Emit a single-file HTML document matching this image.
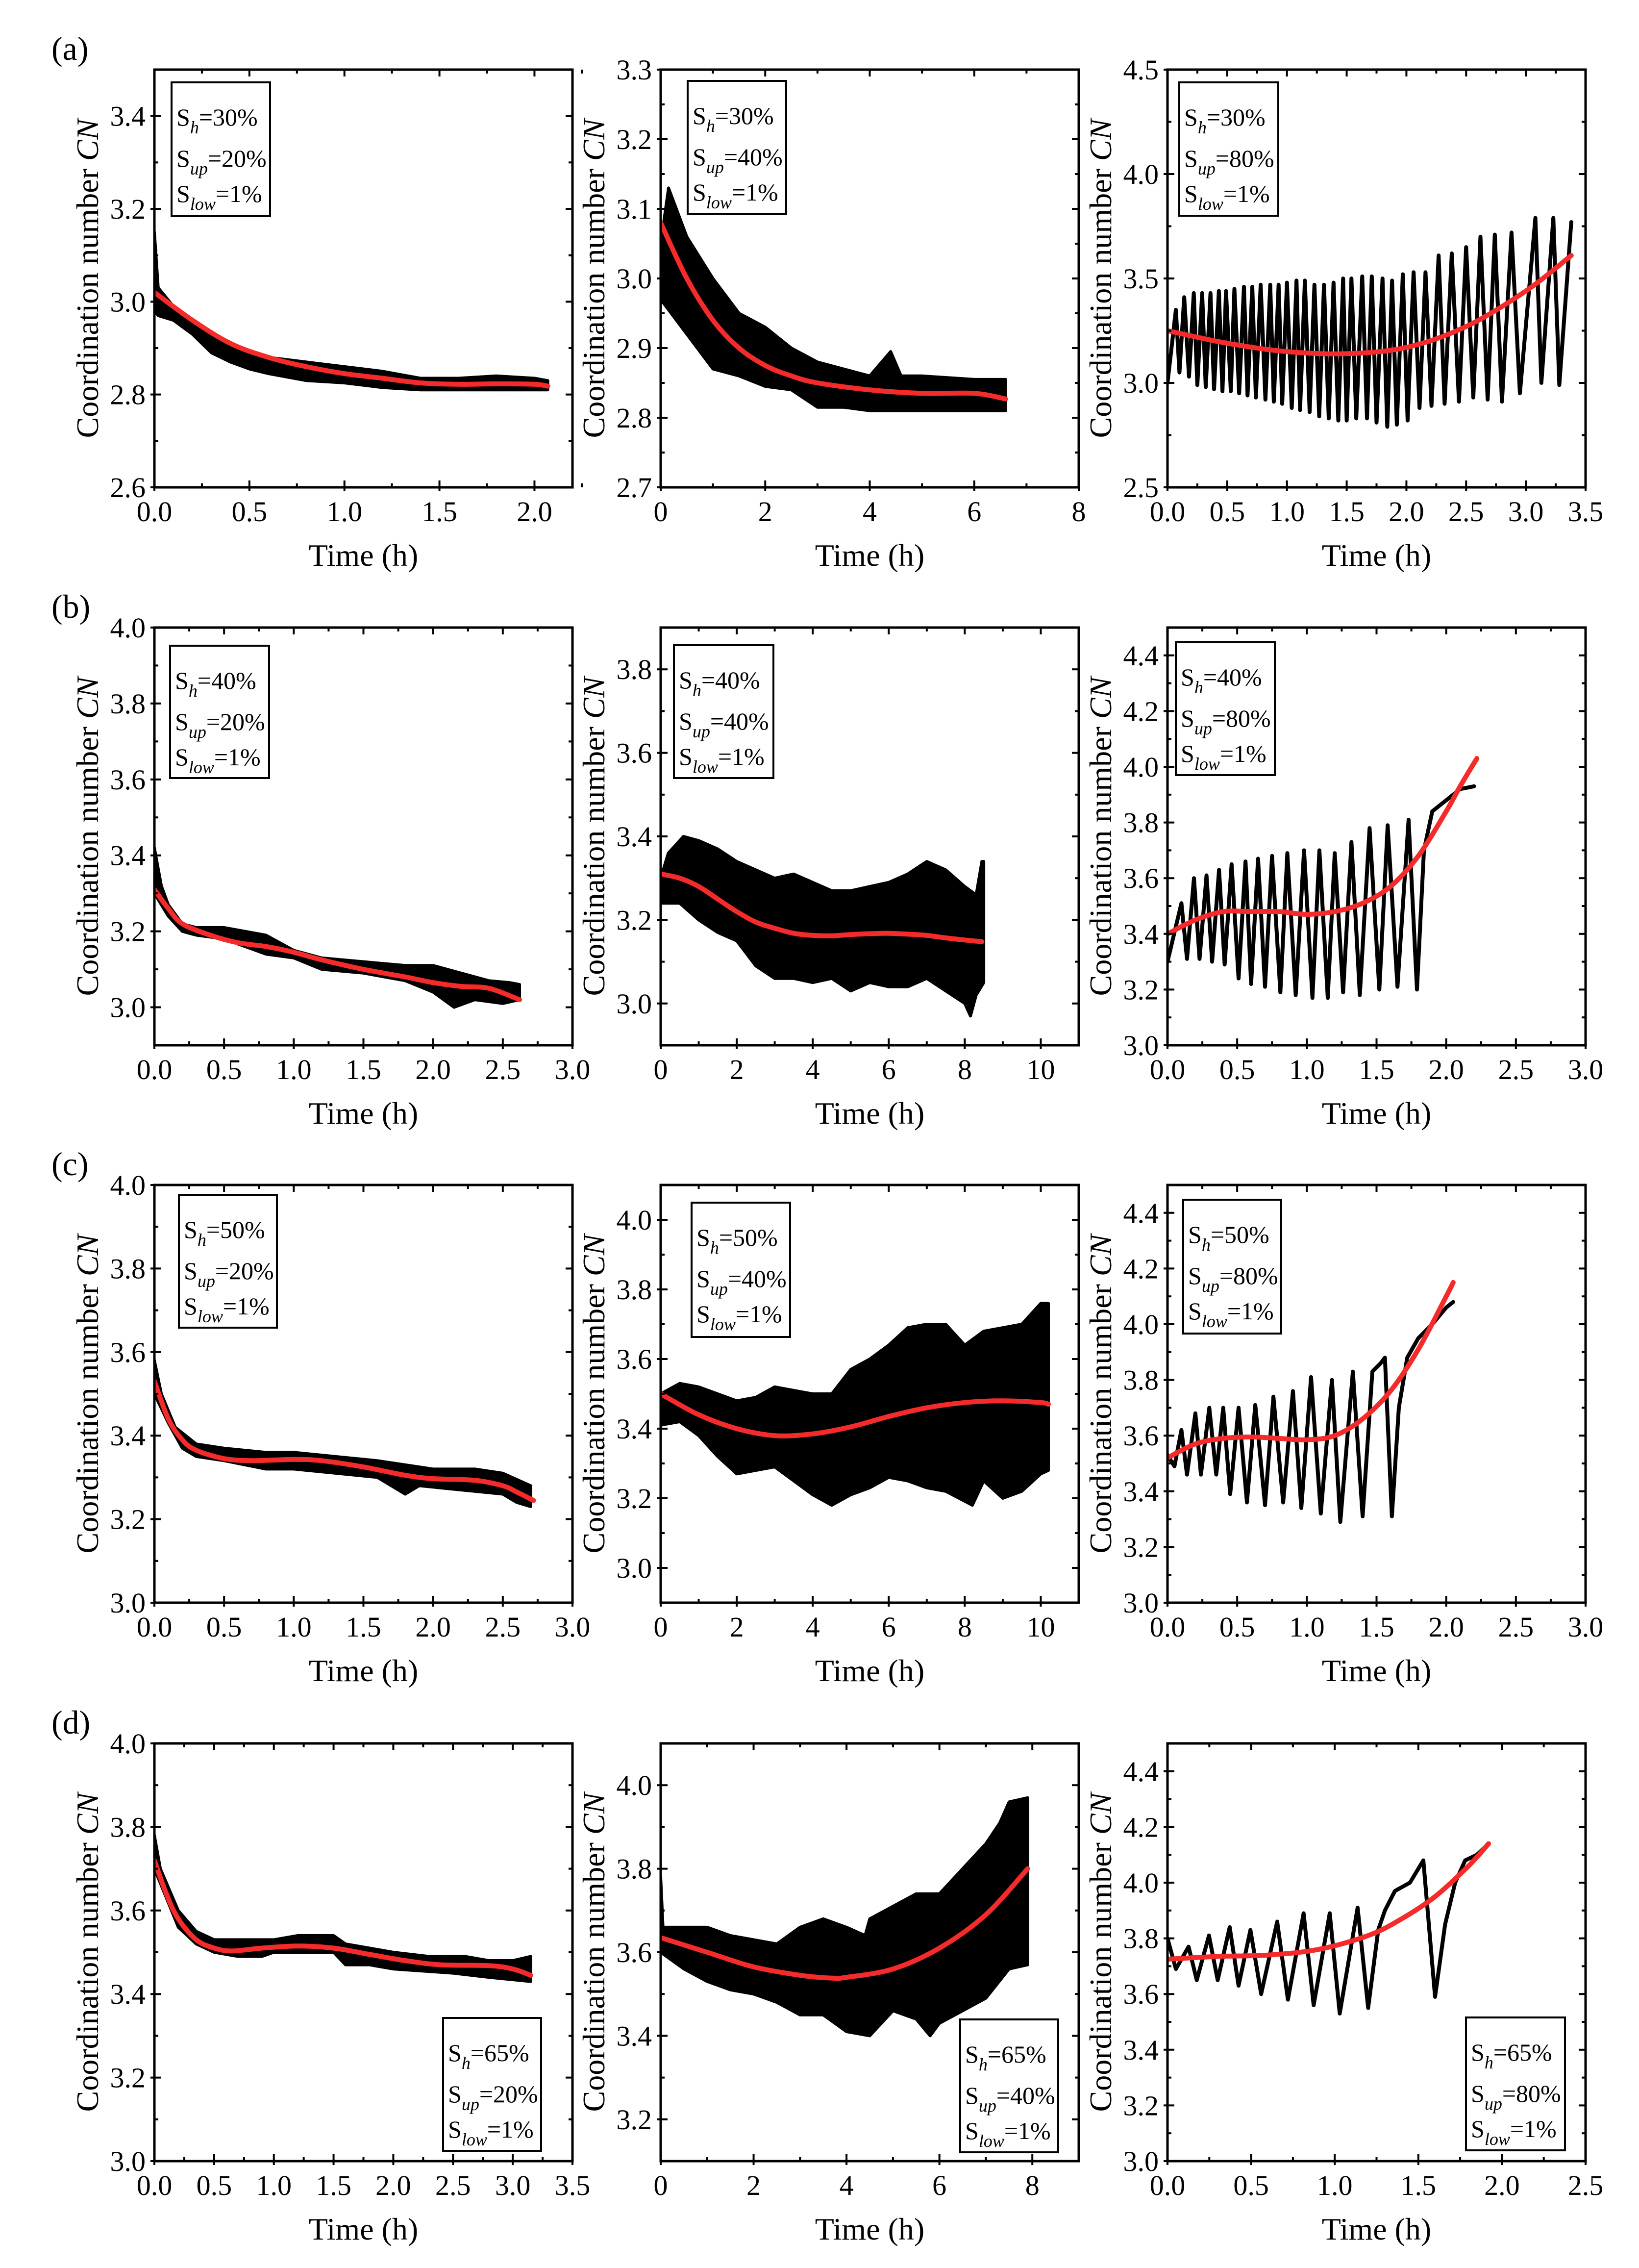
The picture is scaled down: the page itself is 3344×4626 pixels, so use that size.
<!DOCTYPE html>
<html><head><meta charset="utf-8">
<style>
html,body{margin:0;padding:0;background:#fff;}
svg{display:block;font-family:"Liberation Serif","Times New Roman",serif;}
text,tspan{font-family:"Liberation Serif","Times New Roman",serif;fill:#000;}
</style></head>
<body>
<svg id="fig" xmlns="http://www.w3.org/2000/svg" width="3344" height="4626" viewBox="0 0 3344 4626" font-family="Liberation Serif, serif"></svg>
<script>
// ---------------- DATA ----------------
// (a) Sh=30%
const a1UpperT=[0,0.02,0.1,0.2,0.3,0.4,0.5,0.6,0.8,1.0,1.2,1.4,1.6,1.8,2.0,2.07];
const a1UpperV=[3.15,3.03,2.99,2.96,2.93,2.91,2.89,2.88,2.87,2.86,2.85,2.835,2.835,2.84,2.835,2.83];
const a1LowerT=[0,0.02,0.1,0.2,0.3,0.4,0.5,0.6,0.8,1.0,1.2,1.4,1.6,1.8,2.0,2.07];
const a1LowerV=[2.98,2.97,2.96,2.93,2.89,2.87,2.855,2.845,2.83,2.825,2.815,2.81,2.81,2.81,2.81,2.81];
const a1FitT=[0,0.2,0.4,0.6,0.8,1.0,1.2,1.4,1.6,1.8,2.0,2.07];
const a1FitV=[3.02,2.96,2.91,2.88,2.86,2.845,2.835,2.825,2.822,2.823,2.822,2.818];

const a2UpperT=[0,0.15,0.5,1,1.5,2,2.5,3,3.5,4,4.4,4.6,5,6,6.6];
const a2UpperV=[3.05,3.13,3.06,3.0,2.95,2.93,2.9,2.88,2.87,2.86,2.895,2.86,2.86,2.855,2.855];
const a2LowerT=[0,0.5,1,1.5,2,2.5,3,3.5,4,5,6,6.6];
const a2LowerV=[2.97,2.92,2.87,2.86,2.845,2.84,2.815,2.815,2.81,2.81,2.81,2.81];
const a2FitT=[0,0.5,1,1.5,2,2.5,3,4,5,6,6.6];
const a2FitV=[3.08,3.0,2.94,2.9,2.875,2.86,2.85,2.84,2.835,2.835,2.827];

const a3LineT=[0.0,0.07,0.10,0.14,0.18,0.22,0.25,0.29,0.32,0.36,0.39,0.43,0.46,0.49,0.53,0.56,0.60,0.64,0.67,0.71,0.74,0.78,0.82,0.86,0.89,0.93,0.96,1.0,1.04,1.08,1.11,1.15,1.19,1.23,1.27,1.31,1.35,1.39,1.43,1.47,1.50,1.54,1.58,1.63,1.67,1.71,1.75,1.8,1.84,1.88,1.92,1.97,2.01,2.06,2.11,2.16,2.21,2.27,2.32,2.38,2.44,2.5,2.56,2.62,2.68,2.74,2.80,2.88,2.95,3.08,3.13,3.23,3.28,3.38];
const a3LineV=[3.0,3.35,3.05,3.41,3.03,3.43,2.99,3.43,2.98,3.43,2.97,3.44,2.96,3.44,2.96,3.45,2.95,3.46,2.94,3.46,2.93,3.47,2.92,3.47,2.91,3.47,2.90,3.48,2.88,3.49,2.87,3.49,2.86,3.47,2.84,3.47,2.83,3.48,2.82,3.5,2.82,3.5,2.83,3.51,2.83,3.51,2.81,3.5,2.79,3.49,2.80,3.52,2.82,3.53,2.88,3.53,2.89,3.61,2.90,3.62,2.91,3.65,2.93,3.7,2.92,3.71,2.91,3.72,2.95,3.79,3.0,3.79,2.99,3.77];
const a3FitT=[0,0.5,1.0,1.5,2.0,2.5,3.0,3.38];
const a3FitV=[3.25,3.19,3.15,3.14,3.17,3.27,3.44,3.61];

// (b) Sh=40%
const b1UpperT=[0,0.05,0.1,0.2,0.3,0.5,0.8,1.0,1.2,1.5,1.8,2.0,2.2,2.4,2.55,2.62];
const b1UpperV=[3.42,3.32,3.27,3.22,3.21,3.21,3.19,3.15,3.13,3.12,3.11,3.11,3.09,3.07,3.065,3.06];
const b1LowerT=[0,0.1,0.2,0.3,0.5,0.8,1.0,1.2,1.5,1.8,2.0,2.15,2.3,2.5,2.62];
const b1LowerV=[3.3,3.24,3.2,3.19,3.18,3.14,3.13,3.1,3.09,3.07,3.04,3.0,3.02,3.01,3.02];
const b1FitT=[0,0.1,0.2,0.4,0.6,0.8,1.0,1.2,1.5,1.8,2.0,2.2,2.4,2.62];
const b1FitV=[3.31,3.26,3.22,3.19,3.17,3.16,3.145,3.125,3.1,3.08,3.065,3.055,3.05,3.02];

const b2UpperT=[0,0.2,0.6,1,1.5,2,2.5,3,3.5,4,4.5,5,5.5,6,6.5,7,7.5,8,8.3,8.45,8.5];
const b2UpperV=[3.3,3.36,3.4,3.39,3.37,3.34,3.32,3.3,3.31,3.29,3.27,3.27,3.28,3.29,3.31,3.34,3.32,3.28,3.26,3.34,3.34];
const b2LowerT=[0,0.5,1,1.5,2,2.5,3,3.5,4,4.5,5,5.5,6,6.5,7,7.5,8,8.15,8.3,8.5];
const b2LowerV=[3.24,3.24,3.2,3.17,3.15,3.09,3.06,3.06,3.05,3.06,3.03,3.05,3.04,3.04,3.06,3.03,3.0,2.97,3.02,3.05];
const b2FitT=[0,0.5,1,1.5,2,2.5,3,3.5,4,4.5,5,5.5,6,6.5,7,7.5,8,8.45];
const b2FitV=[3.31,3.3,3.28,3.25,3.22,3.195,3.18,3.168,3.163,3.162,3.165,3.167,3.168,3.166,3.163,3.157,3.152,3.148];

const b3LineT=[0.0,0.10,0.14,0.19,0.23,0.28,0.32,0.37,0.41,0.46,0.51,0.56,0.60,0.65,0.70,0.75,0.81,0.86,0.92,0.98,1.04,1.09,1.15,1.20,1.26,1.32,1.38,1.45,1.52,1.58,1.65,1.73,1.79,1.84,1.9,2.0,2.1,2.2];
const b3LineV=[3.3,3.51,3.31,3.6,3.31,3.61,3.3,3.63,3.29,3.65,3.24,3.66,3.22,3.67,3.21,3.68,3.19,3.69,3.18,3.7,3.17,3.7,3.17,3.69,3.19,3.73,3.18,3.78,3.2,3.79,3.21,3.81,3.2,3.7,3.84,3.88,3.92,3.93];
const b3FitT=[0,0.2,0.4,0.6,0.8,1.0,1.2,1.4,1.6,1.8,2.0,2.1,2.22];
const b3FitV=[3.4,3.45,3.48,3.48,3.48,3.47,3.48,3.51,3.57,3.68,3.84,3.93,4.03];

// (c) Sh=50%
const c1UpperT=[0,0.05,0.15,0.3,0.5,0.8,1.0,1.3,1.6,1.8,2.0,2.3,2.5,2.7];
const c1UpperV=[3.58,3.5,3.42,3.38,3.37,3.36,3.36,3.35,3.34,3.33,3.32,3.32,3.31,3.28];
const c1LowerT=[0,0.1,0.2,0.3,0.5,0.8,1.0,1.3,1.6,1.8,1.9,2.2,2.5,2.6,2.7];
const c1LowerV=[3.5,3.43,3.37,3.35,3.34,3.32,3.32,3.31,3.3,3.26,3.28,3.27,3.26,3.24,3.23];
const c1FitT=[0,0.1,0.2,0.3,0.5,0.7,1.0,1.2,1.5,1.8,2.0,2.3,2.5,2.6,2.72];
const c1FitV=[3.53,3.44,3.39,3.365,3.345,3.34,3.343,3.34,3.325,3.305,3.297,3.293,3.28,3.265,3.245];

const c2UpperT=[0,0.5,1,2,2.5,3,4,4.5,5,5.5,6,6.5,7,7.5,8,8.5,9,9.5,10,10.2];
const c2UpperV=[3.5,3.53,3.52,3.48,3.49,3.52,3.5,3.5,3.57,3.6,3.64,3.69,3.7,3.7,3.64,3.68,3.69,3.7,3.76,3.76];
const c2LowerT=[0,0.5,1,1.5,2,2.5,3,3.5,4,4.5,5,5.5,6,6.5,7,7.5,8.2,8.5,9,9.5,10,10.2];
const c2LowerV=[3.41,3.42,3.38,3.32,3.27,3.28,3.29,3.25,3.21,3.18,3.21,3.23,3.26,3.25,3.23,3.22,3.18,3.25,3.2,3.22,3.27,3.28];
const c2FitT=[0,1,2,3,4,5,6,7,8,9,10,10.2];
const c2FitV=[3.5,3.44,3.4,3.38,3.385,3.405,3.435,3.46,3.475,3.48,3.475,3.47];

const c3LineT=[0.0,0.05,0.10,0.14,0.20,0.24,0.30,0.35,0.40,0.45,0.51,0.57,0.63,0.70,0.76,0.83,0.90,0.96,1.03,1.10,1.18,1.24,1.33,1.40,1.47,1.53,1.56,1.61,1.66,1.72,1.8,1.9,2.0,2.05];
const c3LineV=[3.53,3.49,3.62,3.46,3.68,3.46,3.7,3.46,3.7,3.39,3.7,3.36,3.71,3.35,3.74,3.36,3.76,3.34,3.81,3.32,3.8,3.29,3.83,3.31,3.83,3.86,3.88,3.31,3.7,3.88,3.95,4.0,4.06,4.08];
const c3FitT=[0,0.2,0.4,0.6,0.8,1.0,1.2,1.4,1.6,1.8,2.0,2.05];
const c3FitV=[3.52,3.57,3.59,3.595,3.59,3.585,3.6,3.66,3.76,3.91,4.1,4.15];

// (d) Sh=65%
const d1UpperT=[0,0.05,0.2,0.35,0.5,0.7,1.0,1.2,1.5,1.6,1.8,2.0,2.3,2.6,2.8,3.0,3.15];
const d1UpperV=[3.78,3.7,3.6,3.55,3.53,3.53,3.53,3.54,3.54,3.52,3.51,3.5,3.49,3.49,3.48,3.48,3.49];
const d1LowerT=[0,0.1,0.2,0.35,0.5,0.7,0.9,1.0,1.5,1.6,1.8,2.0,2.5,2.8,3.15];
const d1LowerV=[3.7,3.63,3.56,3.52,3.5,3.49,3.49,3.5,3.5,3.47,3.47,3.46,3.45,3.44,3.43];
const d1FitT=[0,0.1,0.2,0.35,0.5,0.65,0.9,1.2,1.5,1.8,2.1,2.4,2.8,3.0,3.15];
const d1FitV=[3.72,3.64,3.58,3.53,3.51,3.503,3.51,3.515,3.51,3.495,3.48,3.47,3.468,3.46,3.445];

const d2UpperT=[0,0.05,0.5,1,1.5,2,2.5,3,3.5,4,4.4,4.5,5,5.5,6,6.5,7,7.3,7.5,7.9];
const d2UpperV=[3.78,3.66,3.66,3.66,3.64,3.63,3.62,3.66,3.68,3.66,3.64,3.68,3.71,3.74,3.74,3.8,3.86,3.91,3.96,3.97];
const d2LowerT=[0,0.5,1,1.5,2,2.5,3,3.5,4,4.5,5,5.5,5.8,6,6.5,7,7.5,7.9];
const d2LowerV=[3.6,3.56,3.53,3.51,3.5,3.48,3.45,3.45,3.41,3.4,3.46,3.44,3.4,3.43,3.46,3.49,3.56,3.57];
const d2FitT=[0,1,2,3,3.7,4,5,6,7,7.9];
const d2FitV=[3.635,3.6,3.565,3.545,3.538,3.54,3.56,3.61,3.69,3.8];

const d3LineT=[0.0,0.05,0.126,0.175,0.248,0.30,0.372,0.425,0.496,0.56,0.656,0.72,0.814,0.874,0.97,1.03,1.137,1.2,1.26,1.3,1.36,1.45,1.53,1.6,1.66,1.72,1.78,1.85,1.92];
const d3LineV=[3.8,3.69,3.77,3.65,3.81,3.65,3.84,3.63,3.83,3.6,3.86,3.58,3.89,3.56,3.89,3.53,3.91,3.55,3.83,3.9,3.97,4.0,4.08,3.59,3.85,4.0,4.08,4.1,4.14];
const d3FitT=[0,0.3,0.6,0.9,1.2,1.4,1.6,1.8,1.92];
const d3FitV=[3.725,3.735,3.74,3.76,3.81,3.87,3.95,4.06,4.14];

// axis tick labels
const xTicks05_20=["0.0","0.5","1.0","1.5","2.0"];
const xTicks2_8=["0","2","4","6","8"];
const xTicks05_35=["0.0","0.5","1.0","1.5","2.0","2.5","3.0","3.5"];
const xTicks05_30=["0.0","0.5","1.0","1.5","2.0","2.5","3.0"];
const xTicks2_10=["0","2","4","6","8","10"];
const xTicks05_25=["0.0","0.5","1.0","1.5","2.0","2.5"];
const yTicksA1=["2.6","2.8","3.0","3.2","3.4"];
const yTicksA2=["2.7","2.8","2.9","3.0","3.1","3.2","3.3"];
const yTicksA3=["2.5","3.0","3.5","4.0","4.5"];
const yTicks30_40=["3.0","3.2","3.4","3.6","3.8","4.0"];
const yTicks30_38=["3.0","3.2","3.4","3.6","3.8"];
const yTicks30_44=["3.0","3.2","3.4","3.6","3.8","4.0","4.2","4.4"];
const yTicks32_40=["3.2","3.4","3.6","3.8","4.0"];
const legendSh=["30%","30%","30%","40%","40%","40%","50%","50%","50%","65%","65%","65%"];
const legendSup=["20%","40%","80%","20%","40%","80%","20%","40%","80%","20%","40%","80%"];

// ---------------- LAYOUT ----------------
const SVGNS="http://www.w3.org/2000/svg";
const FONT='"Liberation Serif", "Times New Roman", serif';
const svg=document.getElementById('fig');
const colX=[315,1348,2382];
const rowY=[142,1280,2417,3556];
const PW=853, PH=852;

const panels=[
 {id:'a1',r:0,c:0,x0:0,x1:2.2,xStep:0.5,xMinor:0.25,xT:xTicks05_20,y0:2.6,y1:3.5,yT:yTicksA1,yMinor:0.1,band:[a1UpperT,a1UpperV,a1LowerT,a1LowerV],fit:[a1FitT,a1FitV],leg:[350,168,551,441]},
 {id:'a2',r:0,c:1,x0:0,x1:8,xStep:2,xMinor:1,xT:xTicks2_8,y0:2.7,y1:3.3,yT:yTicksA2,yMinor:0.05,band:[a2UpperT,a2UpperV,a2LowerT,a2LowerV],fit:[a2FitT,a2FitV],leg:[1403,165,1604,436]},
 {id:'a3',r:0,c:2,x0:0,x1:3.5,xStep:0.5,xMinor:0.25,xT:xTicks05_35,y0:2.5,y1:4.5,yT:yTicksA3,yMinor:0.25,line:[a3LineT,a3LineV],fit:[a3FitT,a3FitV],leg:[2406,168,2608,440]},
 {id:'b1',r:1,c:0,x0:0,x1:3,xStep:0.5,xMinor:0.25,xT:xTicks05_30,y0:2.9,y1:4.0,yT:yTicks30_40,yMinor:0.1,band:[b1UpperT,b1UpperV,b1LowerT,b1LowerV],fit:[b1FitT,b1FitV],leg:[347,1317,549,1587]},
 {id:'b2',r:1,c:1,x0:0,x1:11,xStep:2,xMinor:1,xT:xTicks2_10,y0:2.9,y1:3.9,yT:yTicks30_38,yMinor:0.1,band:[b2UpperT,b2UpperV,b2LowerT,b2LowerV],fit:[b2FitT,b2FitV],leg:[1375,1316,1578,1587]},
 {id:'b3',r:1,c:2,x0:0,x1:3,xStep:0.5,xMinor:0.25,xT:xTicks05_30,y0:3.0,y1:4.5,yT:yTicks30_44,yMinor:0.1,line:[b3LineT,b3LineV],fit:[b3FitT,b3FitV],leg:[2399,1310,2601,1581]},
 {id:'c1',r:2,c:0,x0:0,x1:3,xStep:0.5,xMinor:0.25,xT:xTicks05_30,y0:3.0,y1:4.0,yT:yTicks30_40,yMinor:0.1,band:[c1UpperT,c1UpperV,c1LowerT,c1LowerV],fit:[c1FitT,c1FitV],leg:[365,2437,565,2708]},
 {id:'c2',r:2,c:1,x0:0,x1:11,xStep:2,xMinor:1,xT:xTicks2_10,y0:2.9,y1:4.1,yT:yTicks30_40,yMinor:0.1,band:[c2UpperT,c2UpperV,c2LowerT,c2LowerV],fit:[c2FitT,c2FitV],leg:[1411,2453,1612,2727]},
 {id:'c3',r:2,c:2,x0:0,x1:3,xStep:0.5,xMinor:0.25,xT:xTicks05_30,y0:3.0,y1:4.5,yT:yTicks30_44,yMinor:0.1,line:[c3LineT,c3LineV],fit:[c3FitT,c3FitV],leg:[2414,2447,2614,2720]},
 {id:'d1',r:3,c:0,x0:0,x1:3.5,xStep:0.5,xMinor:0.25,xT:xTicks05_35,y0:3.0,y1:4.0,yT:yTicks30_40,yMinor:0.1,band:[d1UpperT,d1UpperV,d1LowerT,d1LowerV],fit:[d1FitT,d1FitV],leg:[904,4116,1104,4387]},
 {id:'d2',r:3,c:1,x0:0,x1:9,xStep:2,xMinor:1,xT:xTicks2_8,y0:3.1,y1:4.1,yT:yTicks32_40,yMinor:0.1,band:[d2UpperT,d2UpperV,d2LowerT,d2LowerV],fit:[d2FitT,d2FitV],leg:[1959,4119,2159,4390]},
 {id:'d3',r:3,c:2,x0:0,x1:2.5,xStep:0.5,xMinor:0.25,xT:xTicks05_25,y0:3.0,y1:4.5,yT:yTicks30_44,yMinor:0.1,line:[d3LineT,d3LineV],fit:[d3FitT,d3FitV],leg:[2991,4115,3193,4386]}
];

function el(tag,attrs,parent){const e=document.createElementNS(SVGNS,tag);for(const k in attrs)e.setAttribute(k,attrs[k]);if(tag==='text'){e.setAttribute('font-family',FONT);e.style.fontFamily=FONT;}(parent||svg).appendChild(e);return e;}
function smoothPath(pts){
  let d='M'+pts[0][0].toFixed(1)+','+pts[0][1].toFixed(1);
  for(let i=0;i<pts.length-1;i++){
    const p0=pts[Math.max(0,i-1)],p1=pts[i],p2=pts[i+1],p3=pts[Math.min(pts.length-1,i+2)];
    const c1=[p1[0]+(p2[0]-p0[0])/6,p1[1]+(p2[1]-p0[1])/6];
    const c2=[p2[0]-(p3[0]-p1[0])/6,p2[1]-(p3[1]-p1[1])/6];
    d+=' C'+c1[0].toFixed(1)+','+c1[1].toFixed(1)+' '+c2[0].toFixed(1)+','+c2[1].toFixed(1)+' '+p2[0].toFixed(1)+','+p2[1].toFixed(1);
  }
  return d;
}

// panel letters
['(a)','(b)','(c)','(d)'].forEach((s,i)=>{
  const t=el('text',{x:105,y:rowY[i]-20,'font-size':68});
  
  
  t.textContent=s;
});

panels.forEach((p,idx)=>{
  const L=colX[p.c], T=rowY[p.r], R=L+PW, B=T+PH;
  const g=el('g',{});
  
  
  const X=v=>L+(v-p.x0)/(p.x1-p.x0)*PW;
  const Y=v=>B-(v-p.y0)/(p.y1-p.y0)*PH;
  const clipId='clip'+p.id;
  const cp=el('clipPath',{id:clipId},g); el('rect',{x:L,y:T,width:PW,height:PH},cp);
  const plot=el('g',{'clip-path':'url(#'+clipId+')'},g);
  
  

  if(p.band){
    const [uT,uV,lT,lV]=p.band;
    let pts=[];
    for(let i=0;i<uT.length;i++)pts.push(X(uT[i]).toFixed(1)+','+Y(uV[i]).toFixed(1));
    for(let i=lT.length-1;i>=0;i--)pts.push(X(lT[i]).toFixed(1)+','+Y(lV[i]).toFixed(1));
    const band=el('polygon',{points:pts.join(' '),fill:'#000',stroke:'#000','stroke-width':6,'stroke-linejoin':'round'},plot);
    
    
  }
  if(p.line){
    const [lt,lv]=p.line;
    const pts=lt.map((t,i)=>X(t).toFixed(1)+','+Y(lv[i]).toFixed(1)).join(' ');
    const ln=el('polyline',{points:pts,fill:'none',stroke:'#000','stroke-width':8,'stroke-linejoin':'round','stroke-linecap':'round'},plot);
    
    
  }
  const [ft,fv]=p.fit;
  const fp=el('path',{d:smoothPath(ft.map((t,i)=>[X(t),Y(fv[i])])),fill:'none',stroke:'#f52a2a','stroke-width':10,'stroke-linecap':'round'},plot);
  
  

  const xt=el('g',{},g);
  
  
  const nMinor=Math.round((p.x1-p.x0)/p.xMinor);
  for(let i=0;i<=nMinor;i++){
    const v=p.x0+i*p.xMinor, x=X(v);
    const major=Math.abs(v/p.xStep-Math.round(v/p.xStep))<1e-6;
    const len=major?14:8;
    el('line',{x1:x,y1:B+(major?8:0),x2:x,y2:B-len,stroke:'#000','stroke-width':4},xt);
    el('line',{x1:x,y1:T,x2:x,y2:T+len,stroke:'#000','stroke-width':4},xt);
  }
  p.xT.forEach((s,i)=>{
    const t=el('text',{x:X(p.x0+i*p.xStep),y:B+69,'font-size':58,'text-anchor':'middle'},xt);
    
    
    t.textContent=s;
  });
  const xl=el('text',{x:(L+R)/2,y:B+160,'font-size':64,'text-anchor':'middle'},g);
  
  
  xl.textContent='Time (h)';

  const yt=el('g',{},g);
  
  
  const yMajStep=parseFloat(p.yT[1])-parseFloat(p.yT[0]);
  const first=parseFloat(p.yT[0]);
  const startMinor=Math.ceil((p.y0-1e-9)/p.yMinor)*p.yMinor;
  for(let v=startMinor; v<=p.y1+1e-9; v+=p.yMinor){
    const y=Y(v);
    const k=(v-first)/yMajStep;
    const major=Math.abs(k-Math.round(k))<1e-6;
    const len=major?14:8;
    el('line',{x1:L-(major?8:0),y1:y,x2:L+len,y2:y,stroke:'#000','stroke-width':4},yt);
    el('line',{x1:R,y1:y,x2:R-len,y2:y,stroke:'#000','stroke-width':4},yt);
  }
  p.yT.forEach((s)=>{
    const t=el('text',{x:L-18,y:Y(parseFloat(s))+20,'font-size':58,'text-anchor':'end'},yt);
    
    
    t.textContent=s;
  });
  const yl=el('text',{x:0,y:0,'font-size':64,'text-anchor':'middle',transform:'translate('+(L-115)+','+((T+B)/2)+') rotate(-90)'},g);
  
  
  yl.appendChild(document.createTextNode('Coordination number '));
  const it=el('tspan',{'font-style':'italic'},yl); it.textContent='CN';

  const fr=el('rect',{x:L,y:T,width:PW,height:PH,fill:'none',stroke:'#000','stroke-width':5},g);
  
  

  const [lx0,ly0,lx1,ly1]=p.leg;
  const lg=el('g',{},g);
  
  
  el('rect',{x:lx0,y:ly0,width:lx1-lx0,height:ly1-ly0,fill:'#fff',stroke:'#000','stroke-width':4},lg);
  const rows=[['h',legendSh[idx],88],['up',legendSup[idx],172],['low','1%',244]];
  rows.forEach(r=>{
    const t=el('text',{x:lx0+10,y:ly0+r[2],'font-size':50},lg);
    
    
    t.appendChild(document.createTextNode('S'));
    const sub=el('tspan',{'font-style':'italic','font-size':36,dy:16},t); sub.textContent=r[0];
    const rest=el('tspan',{dy:-16},t); rest.textContent='='+r[1];
  });
});
</script>
</body></html>
